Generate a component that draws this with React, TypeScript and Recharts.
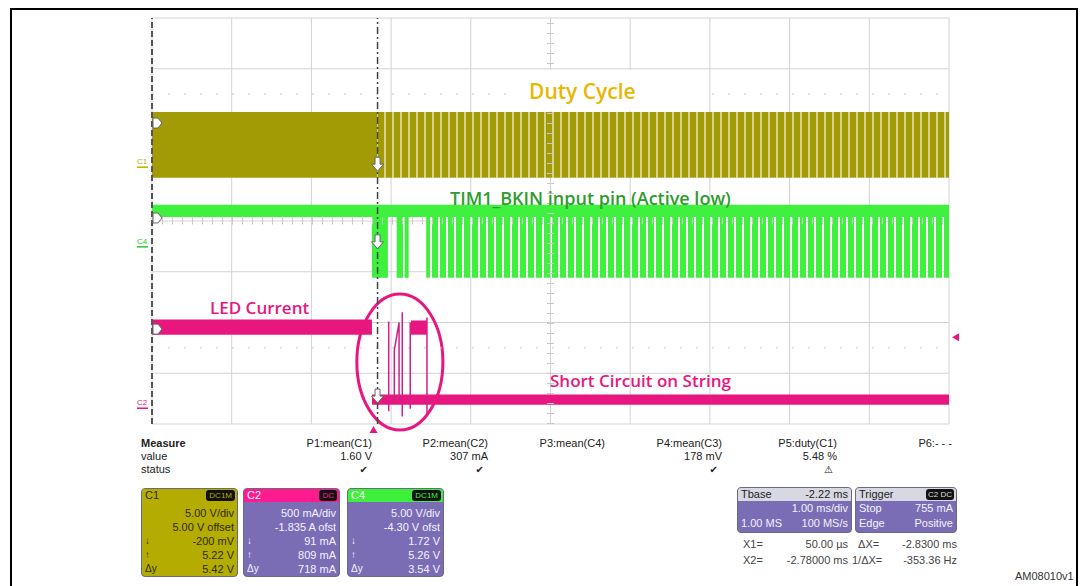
import React from 'react';
import {
  ComposedChart,
  Line,
  XAxis,
  YAxis,
  CartesianGrid,
  ReferenceLine,
  ReferenceArea,
  ReferenceDot,
} from 'recharts';

// time axis in ms (1 ms/div), the X2 cursor sits on the left edge
const gridTimes = [-2.78, -1.78, -0.78, 0.22, 1.22, 2.22, 3.22, 4.22, 5.22, 6.22, 7.22];
// vertical divisions, 0 = bottom of screen
const gridDivs = [0, 1, 2, 3, 4, 5, 6, 7, 8];
const dottedDivs = [6.5, 1.5];
const centerTime = 2.22;
const centerDiv = 4;

const cursorX1 = 0.05;
const cursorX2 = -2.78;
const triggerTime = 0;
const triggerLevel = 1.71;

// C1 - duty cycle
const c1Steady = [{ from: -2.78, to: 0.05, low: 4.85, high: 6.15 }];
const c1Pulsed = [{ from: 0.05, to: 7.22, low: 4.85, high: 6.15 }];

// C4 - TIM1_BKIN
const c4High = [{ from: -2.78, to: 7.22, low: 4.08, high: 4.32 }];
const c4Pulses = [
  { from: -0.02, to: 0.18, low: 2.88, high: 4.08 },
  { from: 0.29, to: 0.37, low: 2.88, high: 4.08 },
  { from: 0.39, to: 0.44, low: 2.88, high: 4.08 },
];
const c4Train = [{ from: 0.66, to: 7.22, low: 2.88, high: 4.08 }];

// C2 - LED current
const c2Bands = [
  { from: -2.78, to: -0.02, low: 1.76, high: 2.06 },
  { from: 0.47, to: 0.67, low: 1.76, high: 2.04 },
  { from: -0.02, to: 7.22, low: 0.38, high: 0.58 },
];
const c2Spikes = [
  { t: 0.19, v: 0.25 }, { t: 0.19, v: 2.02 }, { t: 0.2, v: null },
  { t: 0.26, v: 0.45 }, { t: 0.26, v: 1.45 }, { t: 0.32, v: 2.0 }, { t: 0.32, v: 0.5 }, { t: 0.33, v: null },
  { t: 0.36, v: 0.15 }, { t: 0.36, v: 2.2 }, { t: 0.37, v: null },
  { t: 0.46, v: 0.3 }, { t: 0.46, v: 2.0 }, { t: 0.465, v: null },
  { t: 0.67, v: 0.2 }, { t: 0.67, v: 2.1 },
];
const circleBox = { from: -0.21, to: 0.87, low: -0.12, high: 2.56 };

const offsetMarks = [5.93, 4.06, 1.87];
const crossMarks = [5.1, 3.57, 0.53];
const channelTags = [
  { name: 'C1', v: 5.12, color: '#b8b000' },
  { name: 'C4', v: 3.55, color: '#22cc22' },
  { name: 'C2', v: 0.37, color: '#e8177f' },
];

// measurement table
const measureNames = ['P1:mean(C1)', 'P2:mean(C2)', 'P3:mean(C4)', 'P4:mean(C3)', 'P5:duty(C1)', 'P6:- - -'];
const measureValues = ['1.60 V', '307 mA', '', '178 mV', '5.48 %', ''];
const measureStatus = ['✔', '✔', '', '✔', '⚠', ''];
const measureRight = [372, 488, 605, 722, 837, 952];

const c1Info = [['', '5.00 V/div'], ['', '5.00 V offset'], ['↓', '-200 mV'], ['↑', '5.22 V'], ['Δy', '5.42 V']];
const c2Info = [['', '500 mA/div'], ['', '-1.835 A ofst'], ['↓', '91 mA'], ['↑', '809 mA'], ['Δy', '718 mA']];
const c4Info = [['', '5.00 V/div'], ['', '-4.30 V ofst'], ['↓', '1.72 V'], ['↑', '5.26 V'], ['Δy', '3.54 V']];

const PINK = '#e8177f';
const GREEN = '#3ff03f';
const OLIVE = '#a39b05';

const band = (s: { from: number; to: number; low: number; high: number }, fill: string, key: string) => (
  <ReferenceArea
    key={key}
    x1={s.from}
    x2={s.to}
    y1={s.low}
    y2={s.high}
    fill={fill}
    fillOpacity={1}
    stroke="none"
    ifOverflow="visible"
  />
);

const arrowRight = (p: any) => (
  <path
    transform={`translate(${p.cx + 1},${p.cy})`}
    d="M0,-5 L5,-5 L9,0 L5,5 L0,5 Z"
    fill="#fff"
    stroke="#666"
    strokeWidth={1}
  />
);

const arrowDown = (p: any) => (
  <path
    transform={`translate(${p.cx},${p.cy})`}
    d="M-2.5,-8 L2.5,-8 L2.5,-1 L6,-1 L0,6 L-6,-1 L-2.5,-1 Z"
    fill="#fff"
    stroke="#666"
    strokeWidth={1}
  />
);

const ChannelBox = ({ x, name, badge, head, body, text, nameColor, badgeColor, rows }: any) => (
  <div
    style={{
      position: 'absolute',
      left: x,
      top: 488,
      width: 97,
      height: 89,
      background: body,
      borderRadius: 4,
      border: '1px solid #6a6a80',
      boxSizing: 'border-box',
      overflow: 'hidden',
      fontSize: 11,
      color: text,
    }}
  >
    <div style={{ height: 13, background: head, position: 'relative' }}>
      <span style={{ position: 'absolute', left: 3, top: 0, color: nameColor, fontSize: 11 }}>{name}</span>
      <span
        style={{
          position: 'absolute',
          right: 2,
          top: 1,
          background: '#111',
          color: badgeColor,
          fontSize: 8,
          padding: '0 3px',
          borderRadius: 3,
          lineHeight: '11px',
        }}
      >
        {badge}
      </span>
    </div>
    {rows.map((r: string[], i: number) => (
      <div key={i} style={{ position: 'relative', height: 14, lineHeight: '14px', marginTop: i === 0 ? 4 : 0 }}>
        <span style={{ position: 'absolute', left: 3, fontSize: 10 }}>{r[0]}</span>
        <span style={{ position: 'absolute', right: 3 }}>{r[1]}</span>
      </div>
    ))}
  </div>
);

const note = (text: string, left: number, top: number, size: number, color: string) => (
  <div
    style={{
      position: 'absolute',
      left,
      top,
      fontFamily: '"Open Sans", sans-serif',
      fontWeight: 600,
      fontSize: size,
      color,
      whiteSpace: 'nowrap',
    }}
  >
    {text}
  </div>
);

export default function App() {
  return (
    <div
      style={{
        position: 'absolute',
        left: 0,
        top: 0,
        width: 1084,
        height: 586,
        background: '#fff',
        overflow: 'hidden',
        fontFamily: '"Liberation Sans", Arial, sans-serif',
      }}
    >
      <div
        style={{
          position: 'absolute',
          left: 10,
          top: 8,
          width: 1068,
          height: 620,
          border: '2px solid #000',
          boxSizing: 'border-box',
        }}
      />
      <div style={{ position: 'absolute', left: 0, top: 0 }}>
        <ComposedChart
          width={1084}
          height={586}
          data={c2Spikes}
          margin={{ top: 18, right: 135, bottom: 162, left: 152 }}
        >
          <defs>
            <pattern id="c1Pulse" width="8" height="10" patternUnits="userSpaceOnUse">
              <rect width="8" height="10" fill={OLIVE} />
              <rect x="0" width="2" height="10" fill="#d6d18a" />
            </pattern>
            <pattern id="c4Pulse" width="8" height="10" patternUnits="userSpaceOnUse">
              <rect width="6" height="10" fill={GREEN} />
            </pattern>
          </defs>
          <XAxis type="number" dataKey="t" domain={[-2.78, 7.22]} hide allowDataOverflow />
          <YAxis type="number" domain={[0, 8]} hide allowDataOverflow />
          <CartesianGrid stroke="#d2d2d2" verticalValues={gridTimes} horizontalValues={gridDivs} />
          {dottedDivs.map((d) => (
            <ReferenceLine key={d} y={d} stroke="#c4c4c4" strokeDasharray="2 14" />
          ))}
          <ReferenceLine x={centerTime} stroke="#c8c8c8" strokeWidth={7} strokeDasharray="1 9" />
          <ReferenceLine y={centerDiv} stroke="#c8c8c8" strokeWidth={7} strokeDasharray="1 9" />

          {c1Steady.map((s, i) => band(s, OLIVE, 'c1s' + i))}
          {c1Pulsed.map((s, i) => band(s, 'url(#c1Pulse)', 'c1p' + i))}
          {c4High.map((s, i) => band(s, GREEN, 'c4h' + i))}
          {c4Pulses.map((s, i) => band(s, GREEN, 'c4p' + i))}
          {c4Train.map((s, i) => band(s, 'url(#c4Pulse)', 'c4t' + i))}
          {c2Bands.map((s, i) => band(s, PINK, 'c2b' + i))}

          <Line
            type="linear"
            dataKey="v"
            stroke="#d0208a"
            strokeWidth={1.5}
            dot={false}
            connectNulls={false}
            isAnimationActive={false}
          />

          <ReferenceLine x={cursorX2} stroke="#555" strokeWidth={2} strokeDasharray="6 3" />
          <ReferenceLine x={cursorX1} stroke="#444" strokeWidth={1.5} strokeDasharray="7 3 2 3" />

          <ReferenceArea
            x1={circleBox.from}
            x2={circleBox.to}
            y1={circleBox.low}
            y2={circleBox.high}
            ifOverflow="visible"
            shape={(p: any) => (
              <ellipse
                cx={p.x + p.width / 2}
                cy={p.y + p.height / 2}
                rx={p.width / 2}
                ry={p.height / 2}
                fill="none"
                stroke={PINK}
                strokeWidth={3}
              />
            )}
          />

          {offsetMarks.map((v, i) => (
            <ReferenceDot key={'o' + i} x={cursorX2} y={v} ifOverflow="visible" shape={arrowRight} />
          ))}
          {crossMarks.map((v, i) => (
            <ReferenceDot key={'x' + i} x={cursorX1} y={v} ifOverflow="visible" shape={arrowDown} />
          ))}
          {channelTags.map((c) => (
            <ReferenceDot
              key={c.name}
              x={cursorX2}
              y={c.v}
              ifOverflow="visible"
              shape={(p: any) => (
                <g>
                  <text x={p.cx - 15} y={p.cy} fill={c.color} fontSize={8} fontFamily="Liberation Sans">
                    {c.name}
                  </text>
                  <line x1={p.cx - 15} x2={p.cx - 4} y1={p.cy + 3} y2={p.cy + 3} stroke={c.color} strokeWidth={1.5} />
                </g>
              )}
            />
          ))}
          <ReferenceDot
            x={7.22}
            y={triggerLevel}
            ifOverflow="visible"
            shape={(p: any) => (
              <path transform={`translate(${p.cx + 3},${p.cy})`} d="M0,0 L7,-4 L7,4 Z" fill={PINK} />
            )}
          />
          <ReferenceDot
            x={triggerTime}
            y={0}
            ifOverflow="visible"
            shape={(p: any) => (
              <path transform={`translate(${p.cx},${p.cy + 2})`} d="M0,0 L-4,7 L4,7 Z" fill={PINK} />
            )}
          />
        </ComposedChart>
      </div>

      {/* annotations */}
      <div style={{ position: 'absolute', left: 515, top: 70, width: 185, height: 41, background: '#fff' }} />
      {note('Duty Cycle', 529, 77, 21, '#eab500')}
      {note('TIM1_BKIN input pin (Active low)', 450, 186, 18, '#2e9c2e')}
      {note('LED Current', 210, 296, 17, PINK)}
      {note('Short Circuit on String', 550, 369, 17, PINK)}

      {/* measure table */}
      <div style={{ position: 'absolute', left: 141, top: 437, fontSize: 11, color: '#222', lineHeight: '13px' }}>
        <div style={{ fontWeight: 700 }}>Measure</div>
        <div>value</div>
        <div>status</div>
      </div>
      {measureNames.map((n, i) => (
        <div
          key={n}
          style={{
            position: 'absolute',
            left: measureRight[i] - 110,
            width: 110,
            top: 437,
            textAlign: 'right',
            fontSize: 11,
            color: '#222',
            lineHeight: '13px',
          }}
        >
          <div>{n}</div>
          <div>{measureValues[i] || '\u00a0'}</div>
          <div style={{ paddingRight: 4, fontFamily: '"DejaVu Sans"', fontSize: 10 }}>{measureStatus[i] || '\u00a0'}</div>
        </div>
      ))}

      <ChannelBox x={141} name="C1" badge="DC1M" head="#b4ac00" body="#b4ac00" text="#2e2b00" nameColor="#2e2b00" badgeColor="#b4ac00" rows={c1Info} />
      <ChannelBox x={243} name="C2" badge="DC" head="#ff1b8d" body="#7b6db5" text="#f2f2ff" nameColor="#fff" badgeColor="#ff1b8d" rows={c2Info} />
      <ChannelBox x={347} name="C4" badge="DC1M" head="#3cf03c" body="#7b6db5" text="#f2f2ff" nameColor="#fff" badgeColor="#3cf03c" rows={c4Info} />

      {/* timebase & trigger */}
      <div
        style={{
          position: 'absolute',
          left: 737,
          top: 487,
          width: 115,
          height: 46,
          background: '#7b6db5',
          borderRadius: 4,
          overflow: 'hidden',
          fontSize: 11,
          color: '#f2f2ff',
          border: '1px solid #6a6a80',
          boxSizing: 'border-box',
        }}
      >
        <div style={{ height: 13, background: '#d8d8e2', color: '#222', position: 'relative', lineHeight: '13px' }}>
          <span style={{ position: 'absolute', left: 3 }}>Tbase</span>
          <span style={{ position: 'absolute', right: 3 }}>-2.22 ms</span>
        </div>
        <div style={{ position: 'relative', height: 15, lineHeight: '15px' }}>
          <span style={{ position: 'absolute', right: 3 }}>1.00 ms/div</span>
        </div>
        <div style={{ position: 'relative', height: 15, lineHeight: '15px' }}>
          <span style={{ position: 'absolute', left: 3 }}>1.00 MS</span>
          <span style={{ position: 'absolute', right: 3 }}>100 MS/s</span>
        </div>
      </div>
      <div
        style={{
          position: 'absolute',
          left: 855,
          top: 487,
          width: 102,
          height: 46,
          background: '#7b6db5',
          borderRadius: 4,
          overflow: 'hidden',
          fontSize: 11,
          color: '#f2f2ff',
          border: '1px solid #6a6a80',
          boxSizing: 'border-box',
        }}
      >
        <div style={{ height: 13, background: '#d8d8e2', color: '#222', position: 'relative', lineHeight: '13px' }}>
          <span style={{ position: 'absolute', left: 3 }}>Trigger</span>
          <span
            style={{
              position: 'absolute',
              right: 2,
              top: 1,
              background: '#111',
              color: '#ddd',
              fontSize: 8,
              padding: '0 2px',
              borderRadius: 3,
              lineHeight: '11px',
            }}
          >
            C2 DC
          </span>
        </div>
        <div style={{ position: 'relative', height: 15, lineHeight: '15px' }}>
          <span style={{ position: 'absolute', left: 3 }}>Stop</span>
          <span style={{ position: 'absolute', right: 3 }}>755 mA</span>
        </div>
        <div style={{ position: 'relative', height: 15, lineHeight: '15px' }}>
          <span style={{ position: 'absolute', left: 3 }}>Edge</span>
          <span style={{ position: 'absolute', right: 3 }}>Positive</span>
        </div>
      </div>

      {/* cursor readouts */}
      <div style={{ position: 'absolute', left: 743, top: 536, fontSize: 11, color: '#444', lineHeight: '16px' }}>
        <div>X1=</div>
        <div>X2=</div>
      </div>
      <div style={{ position: 'absolute', left: 742, width: 106, top: 536, fontSize: 11, color: '#444', lineHeight: '16px', textAlign: 'right' }}>
        <div>50.00 µs</div>
        <div>-2.78000 ms</div>
      </div>
      <div style={{ position: 'absolute', left: 852, top: 536, fontSize: 11, color: '#444', lineHeight: '16px' }}>
        <div>&nbsp;&nbsp;ΔX=</div>
        <div>1/ΔX=</div>
      </div>
      <div style={{ position: 'absolute', left: 857, width: 100, top: 536, fontSize: 11, color: '#444', lineHeight: '16px', textAlign: 'right' }}>
        <div>-2.8300 ms</div>
        <div>-353.36 Hz</div>
      </div>
      <div style={{ position: 'absolute', left: 1015, top: 570, fontSize: 11, color: '#333' }}>AM08010v1</div>
    </div>
  );
}
